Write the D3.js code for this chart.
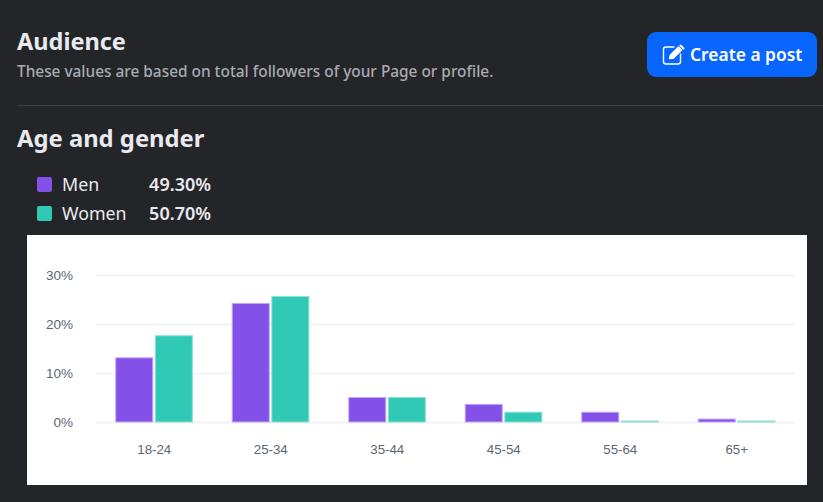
<!DOCTYPE html>
<html><head><meta charset="utf-8">
<script src="https://cdn.jsdelivr.net/npm/d3@7"></script>
<style>html,body{margin:0;padding:0;background:#242528;overflow:hidden}svg{display:block}</style>
</head><body><svg id="c" width="823" height="502"></svg>
<script>
const categories = ["18-24","25-34","35-44","45-54","55-64","65+"];
const men =   [13.2,24.3,5.1,3.7,2.1,0.7];
const women = [17.7,25.7,5.1,2.1,0.3,0.3];
const yTicks = [0,10,20,30];
const legendNames = ["Men","Women"];
const legendValues = ["49.30%","50.70%"];
const colors = ["#8350e8","#30c9b5"];
const strokes = ["#c2a6f3","#8ee0d5"];

const UI = "'Noto Sans','Open Sans',sans-serif";
const svg = d3.select("#c");
svg.append("rect").attr("width",823).attr("height",502).attr("fill","#242528");

const txt = (x,y,s,size,weight,fill,anchor="start",fam=UI)=>svg.append("text")
  .attr("x",x).attr("y",y).text(s).attr("font-family",fam).attr("font-size",size)
  .attr("font-weight",weight).attr("fill",fill).attr("text-anchor",anchor);

txt(17,50,"Audience",23.5,700,"#e8eaf0");
txt(17,77,"These values are based on total followers of your Page or profile.",15.4,500,"#a8abb2");
svg.append("line").attr("x1",17).attr("x2",823).attr("y1",105.5).attr("y2",105.5).attr("stroke","#3b3c3f");
txt(17,147,"Age and gender",23.8,700,"#e8eaf0");

legendNames.forEach((n,i)=>{
  const y = 177+i*29;
  svg.append("rect").attr("x",37).attr("y",y).attr("width",15).attr("height",15).attr("rx",2).attr("fill",colors[i]);
  txt(62,y+14,n,17.800,400,"#e8eaf0");
  txt(211,y+14,legendValues[i],18,600,"#e8eaf0","end");
});

// button
svg.append("rect").attr("x",647).attr("y",32).attr("width",170).attr("height",45).attr("rx",9).attr("fill","#0866ff");
const ic = svg.append("g").attr("fill","none").attr("stroke","#fff").attr("stroke-width",1.4).attr("stroke-linecap","round").attr("stroke-linejoin","round");
ic.append("path").attr("d","M674 47H666a2.500 2.500 0 0 0-2.500 2.500V61.500a2.500 2.500 0 0 0 2.500 2.500H678a2.500 2.500 0 0 0 2.500-2.500V54");
ic.append("path").attr("d","M669.500 58.500L670.500 55L678.500 47L681.500 50L673.500 58Z").attr("fill","#fff");
ic.append("path").attr("d","M680.500 45.500L683.500 48.500").attr("stroke-width",2);
txt(690,61,"Create a post",17.400,600,"#ffffff");

// chart panel
svg.append("rect").attr("x",27).attr("y",235).attr("width",780).attr("height",250).attr("fill","#ffffff");
const x = d3.scaleBand().domain(categories).range([96,795]);
const y = d3.scaleLinear().domain([0,30]).range([422,275]);
const AX = "'Liberation Sans',Arial,sans-serif";

const gy = svg.append("g").attr("transform","translate(96,0)")
  .call(d3.axisLeft(y).tickValues(yTicks).tickFormat(d=>d+"%").tickSize(-699).tickPadding(23));
gy.select(".domain").remove();
gy.selectAll("line").attr("stroke","#f2f3f5").attr("stroke-width",2);
gy.selectAll("text").attr("font-family",AX).attr("font-size",13.500).attr("fill","#5d6673");

const gx = svg.append("g").attr("transform","translate(0,422)")
  .call(d3.axisBottom(x).tickSize(0).tickPadding(23));
gx.select(".domain").remove();
gx.selectAll("text").attr("font-family",AX).attr("font-size",13.300).attr("fill","#5d6673");

const inner = d3.scaleBand().domain([0,1]).range([-39,39]).paddingInner(0.03);
[men,women].forEach((arr,s)=>{
  svg.append("g").selectAll("rect").data(arr).join("rect")
    .attr("x",(d,i)=>x(categories[i])+x.bandwidth()/2+inner(s)+0.5)
    .attr("width",inner.bandwidth()-1.4)
    .attr("y",d=>y(d)+0.5)
    .attr("height",d=>Math.max(0,y(0)-y(d)-0.5))
    .attr("fill",colors[s]).attr("stroke",strokes[s]).attr("stroke-width",1);
});
</script></body></html>
